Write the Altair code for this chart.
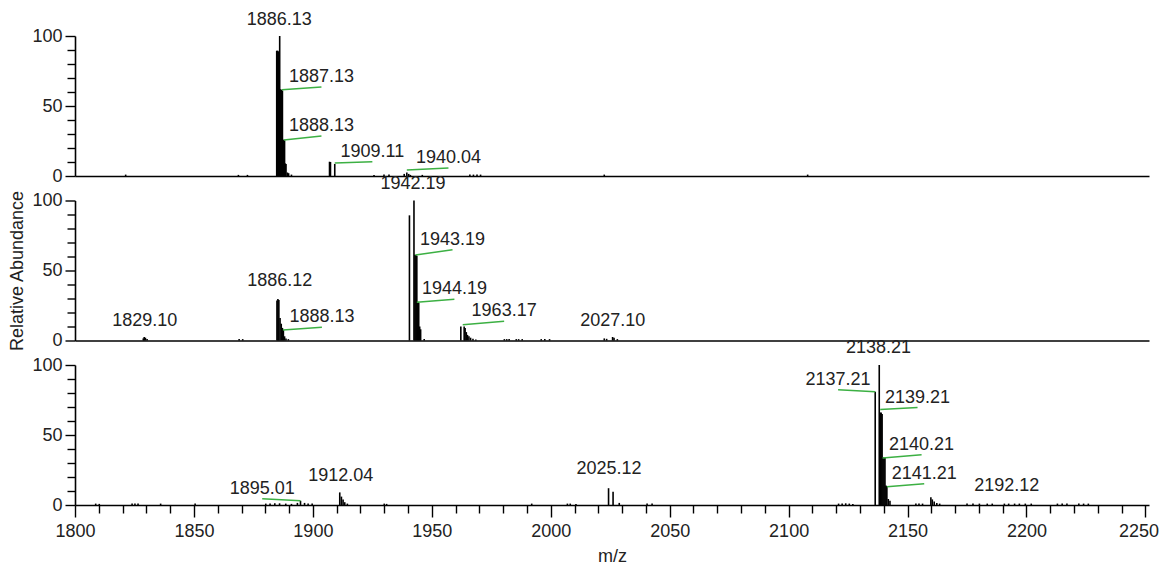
import altair as alt
import pandas as pd

# ---------------- data (m/z, relative abundance %) ----------------
top_mz = [1821.3, 1868.7, 1872.5, 1884.8, 1885.2, 1885.6, 1886.05, 1886.4, 1886.8, 1887.2,
          1887.7, 1888.1, 1888.4, 1888.7, 1889.3, 1889.8, 1891.0, 1907.0, 1907.4, 1909.2,
          1925.7, 1929.9, 1932.0, 1938.4, 1939.5, 1940.3, 1941.0, 1946.0, 1966.0, 1967.5,
          1969.0, 1970.5, 2022.5, 2108.0]
top_ab = [1.0, 0.8, 0.8, 89.5, 89.5, 89.0, 100.0, 62.0, 61.6, 61.0,
          26.0, 25.5, 9.0, 8.6, 2.5, 2.0, 1.0, 10.2, 10.0, 8.6,
          0.8, 1.0, 1.0, 1.5, 2.5, 1.5, 0.8, 0.8, 1.0, 1.0,
          1.0, 1.0, 1.0, 1.0]

mid_mz = [1828.7, 1829.1, 1829.6, 1830.3, 1869.0, 1870.5, 1884.9, 1885.3, 1885.7, 1886.2,
          1886.7, 1887.2, 1887.6, 1888.1, 1888.7, 1889.7, 1940.6, 1942.5, 1942.9, 1943.3,
          1943.7, 1944.1, 1944.5, 1944.9, 1945.3, 1946.8, 1962.2, 1963.6, 1964.0, 1964.5,
          1965.0, 1965.6, 1966.3, 1967.3, 1968.5, 1980.5, 1981.5, 1982.5, 1985.5, 1986.5,
          1988.0, 1996.0, 1997.5, 1999.5, 2022.5, 2023.5, 2026.0, 2026.6, 2028.0]
mid_ab = [1.5, 2.5, 2.0, 1.0, 1.0, 1.0, 28.5, 29.6, 29.0, 16.0,
          12.0, 9.0, 7.5, 3.0, 1.5, 1.0, 89.4, 100.0, 61.3, 61.0,
          60.5, 27.7, 27.0, 10.0, 8.0, 1.0, 10.0, 10.0, 9.0, 6.0,
          4.0, 3.0, 2.0, 1.2, 0.8, 1.0, 1.0, 1.0, 1.0, 1.0,
          1.0, 1.0, 1.0, 1.0, 1.5, 1.2, 2.5, 2.0, 1.0]

bot_mz = [1808.7, 1810.2, 1824.0, 1825.2, 1826.5, 1836.0, 1850.5, 1880.2, 1882.0, 1884.0,
          1886.0, 1888.6, 1891.0, 1893.5, 1894.8, 1896.5, 1898.0, 1899.7, 1911.3, 1912.0,
          1912.7, 1913.4, 1914.5, 1930.0, 1931.0, 1992.0, 2007.0, 2008.2, 2010.6, 2024.3,
          2026.2, 2028.8, 2040.5, 2042.6, 2121.0, 2122.5, 2124.0, 2125.5, 2127.0, 2136.4,
          2138.1, 2138.5, 2138.9, 2139.3, 2139.7, 2140.1, 2140.5, 2140.9, 2141.3, 2141.9,
          2142.6, 2153.5, 2154.8, 2156.3, 2159.8, 2160.4, 2161.2, 2162.3, 2163.5, 2175.0,
          2177.5, 2180.2, 2183.5, 2185.6, 2190.7, 2192.5, 2195.0, 2197.0, 2199.5, 2202.0,
          2213.0, 2215.0, 2217.0, 2222.0, 2224.0, 2226.0]
bot_ab = [1.0, 0.8, 1.0, 1.0, 1.0, 1.0, 1.0, 1.0, 1.0, 1.2,
          1.2, 1.0, 0.8, 1.5, 3.0, 1.5, 1.0, 1.0, 9.0, 6.0,
          4.0, 2.0, 1.0, 1.0, 0.8, 1.0, 1.0, 1.0, 0.8, 12.0,
          9.5, 1.5, 1.0, 1.0, 1.0, 1.0, 1.2, 1.0, 0.8, 80.9,
          100.0, 66.0, 66.0, 65.0, 34.0, 34.0, 33.5, 14.0, 13.5, 4.3,
          3.0, 1.0, 1.0, 1.0, 5.5, 4.0, 2.5, 1.5, 1.0, 1.0,
          1.0, 1.0, 1.0, 1.0, 1.0, 1.0, 1.0, 1.0, 1.0, 1.0,
          1.0, 1.0, 1.0, 1.0, 1.0, 1.0]

# annotations: panel, text, label anchor (m/z, %), peak the leader starts from (None = no leader)
ann_panel = ["top", "top", "top", "top", "top",
             "mid", "mid", "mid", "mid", "mid", "mid", "mid", "mid",
             "bot", "bot", "bot", "bot", "bot", "bot", "bot", "bot", "bot"]
ann_text = ["1886.13", "1887.13", "1888.13", "1909.11", "1940.04",
            "1829.10", "1886.12", "1888.13", "1942.19", "1943.19", "1944.19", "1963.17", "2027.10",
            "1895.01", "1912.04", "2025.12", "2137.21", "2138.21", "2139.21", "2140.21", "2141.21", "2192.12"]
ann_x = [1885.9, 1903.6, 1903.6, 1925.0, 1957.0,
         1829.3, 1886.1, 1903.8, 1942.1, 1958.7, 1959.5, 1980.4, 2026.1,
         1878.7, 1911.7, 2024.5, 2120.8, 2137.8, 2154.2, 2155.9, 2157.0, 2191.7]
ann_y = [104.0, 63.5, 28.6, 10.2, 5.7,
         6.6, 35.2, 9.4, 104.7, 64.8, 29.4, 13.7, 7.0,
         4.5, 13.9, 18.7, 82.3, 105.3, 69.6, 35.9, 15.1, 6.7]
peak_x = [None, 1887.0, 1887.8, 1909.2, 1939.5,
          None, None, 1887.4, None, 1943.1, 1943.7, 1963.0, None,
          1894.8, None, None, 2136.4, None, 2138.5, 2139.5, 2141.3, None]
peak_y = [None, 61.6, 25.7, 9.3, 4.3,
          None, None, 7.5, None, 61.0, 27.3, 11.3, None,
          3.1, None, None, 80.9, None, 68.2, 33.5, 13.1, None]

X_TICKS = list(range(1800, 2251, 10))
Y_TICKS = list(range(0, 101, 10))
X_DOMAIN = [1800, 2251.5]

FONT = "Liberation Sans"
TXT = "#222222"
GREEN = "#3cb043"

ann = pd.DataFrame({"panel": ann_panel, "text": ann_text, "lx": ann_x, "ly": ann_y,
                    "px": peak_x, "py": peak_y})

xscale = alt.Scale(domain=X_DOMAIN, nice=False, zero=False)
yscale = alt.Scale(domain=[0, 100], nice=False)


def panel(name, mz, ab, bottom, ytitle):
    df = pd.DataFrame({"mz": mz, "ab": ab})
    if bottom:
        xaxis = alt.Axis(values=X_TICKS, title="m/z", format="d",
                         labelExpr="datum.value % 50 == 0 ? datum.label : ''",
                         tickSize={"condition": {"test": "datum.value % 50 == 0", "value": 12}, "value": 8},
                         labelAlign={"condition": {"test": "datum.value >= 2250", "value": "right"}, "value": "center"},
                         labelOffset={"condition": {"test": "datum.value >= 2250", "value": 13}, "value": 0},
                         labelPadding=5, titlePadding=7, grid=False)
    else:
        xaxis = alt.Axis(ticks=False, labels=False, title=None, grid=False)
    yaxis = alt.Axis(values=Y_TICKS, title=ytitle if ytitle else None,
                     labelExpr="datum.value % 50 == 0 ? datum.label : ''",
                     tickSize={"condition": {"test": "datum.value % 50 == 0", "value": 10}, "value": 8},
                     labelPadding=3, titlePadding=5, grid=False)
    sticks = alt.Chart(df).mark_rule(color="black", strokeWidth=1.6).encode(
        x=alt.X("mz:Q", scale=xscale, axis=xaxis),
        y=alt.Y("ab:Q", scale=yscale, axis=yaxis),
        y2=alt.datum(0),
    )
    sub = ann[ann["panel"] == name]
    lead = alt.Chart(sub.dropna()).mark_rule(color=GREEN, strokeWidth=1.5).encode(
        x=alt.X("px:Q", scale=xscale, axis=xaxis),
        y=alt.Y("py:Q", scale=yscale, axis=yaxis),
        x2="lx:Q", y2="ly:Q",
    )
    text = alt.Chart(sub).mark_text(baseline="bottom", align="center", dy=-1,
                                    font=FONT, fontSize=18, color=TXT).encode(
        x=alt.X("lx:Q", scale=xscale, axis=xaxis),
        y=alt.Y("ly:Q", scale=yscale, axis=yaxis),
        text="text:N",
    )
    return alt.layer(sticks, lead, text).properties(width=1074, height=140)


chart = alt.vconcat(
    panel("top", top_mz, top_ab, False, None),
    panel("mid", mid_mz, mid_ab, False, "Relative Abundance"),
    panel("bot", bot_mz, bot_ab, True, None),
    spacing=24.5, bounds="flush",
).properties(
    padding={"left": 0, "top": 3, "right": 0, "bottom": 0}
).configure_view(stroke=None).configure_axis(
    domainColor="black", domainWidth=1.6, tickColor="black", tickWidth=1.4,
    labelFont=FONT, labelFontSize=18, labelColor=TXT,
    titleFont=FONT, titleFontSize=18, titleColor=TXT, titleFontWeight="normal",
)

chart.save("out.html", embed_options={"renderer": "svg", "actions": False})
